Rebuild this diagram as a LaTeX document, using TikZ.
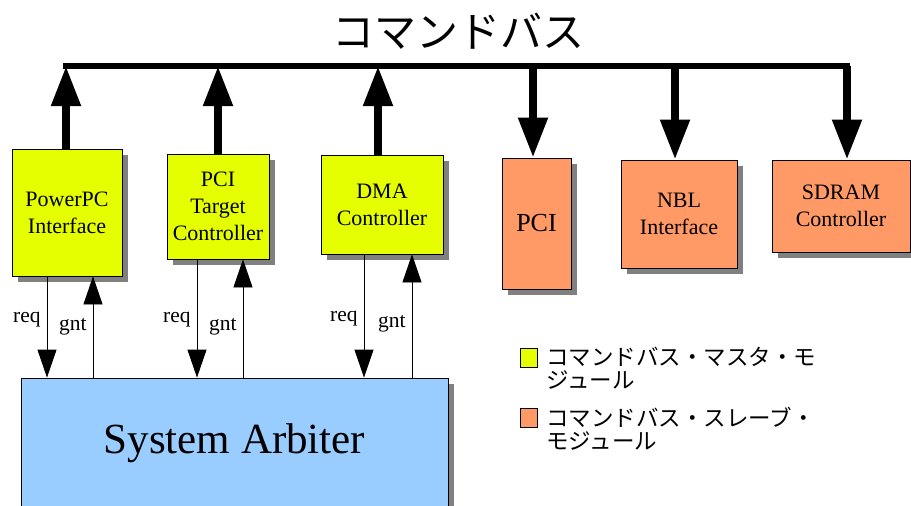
\documentclass[tikz,border=0pt]{standalone}
\usepackage{fontspec}
\setmainfont{Liberation Serif}
\newfontfamily\jp{Noto Sans CJK JP}
\usetikzlibrary{arrows.meta,shadows}
\definecolor{mastercol}{HTML}{E6FF00}
\definecolor{slavecol}{HTML}{FF9966}
\definecolor{arbcol}{HTML}{99CCFF}
\tikzset{
  module/.style={draw=black, line width=0.8pt, align=center, inner sep=2pt,
    font=\fontsize{22}{27}\selectfont,
    drop shadow={shadow xshift=6pt, shadow yshift=-6pt, fill=black!50, opacity=1}},
  master/.style={module, fill=mastercol},
  slave/.style={module, fill=slavecol},
  busline/.style={line width=6pt, line cap=rect},
  busarrow/.style={line width=8pt, -{Triangle[width=28pt,length=40pt]}},
  sig/.style={line width=0.8pt, -{Triangle[width=19pt,length=28pt]}},
  sigtext/.style={font=\fontsize{21.5}{24}\selectfont, inner sep=6pt},
  legendbox/.style={draw=black, line width=0.8pt, minimum width=17pt, minimum height=19pt, inner sep=0pt},
  legendtext/.style={font=\jp\fontsize{22.5}{23}\selectfont, align=left, inner sep=0pt, anchor=west}
}
\begin{document}
\begin{tikzpicture}[x=1pt,y=-1pt]
    \useasboundingbox (0,0) rectangle (911,506);
    \node[font=\jp\fontsize{42}{48}\selectfont] (title) at (458,31) {コマンドバス};
    \node[master, minimum width=110pt, minimum height=127pt] (ppc) at (67,212.5) {PowerPC\\Interface};
    \node[master, minimum width=102pt, minimum height=105pt] (pcit) at (218,206.5) {PCI\\Target\\Controller};
    \node[master, minimum width=122pt, minimum height=99pt] (dma) at (382,204.5) {DMA\\Controller};
    \node[slave, minimum width=69pt, minimum height=131pt, font=\fontsize{26}{30}\selectfont] (pci) at (536.5,223.5) {PCI};
    \node[slave, minimum width=116pt, minimum height=108pt] (nbl) at (679,214) {NBL\\Interface};
    \node[slave, minimum width=138pt, minimum height=92pt] (sdram) at (841,206) {SDRAM\\Controller};
    \node[module, fill=arbcol, minimum width=427pt, minimum height=130pt, font=\fontsize{43}{50}\selectfont] (arb) at (234.5,443) {System Arbiter};
    \coordinate (b1) at (66,66);
    \coordinate (b2) at (218,66);
    \coordinate (b3) at (378,66);
    \coordinate (b4) at (533,66);
    \coordinate (b5) at (675,66);
    \coordinate (b6) at (847,66);
    \draw[busline] (b1) -- (b6);
    \draw[busarrow] (ppc.north -| b1) -- (b1);
    \draw[busarrow] (pcit.north -| b2) -- (b2);
    \draw[busarrow] (dma.north -| b3) -- (b3);
    \draw[busarrow] (b4) -- (b4 |- pci.north);
    \draw[busarrow] (b5) -- (b5 |- nbl.north);
    \draw[busarrow] (b6) -- (b6 |- sdram.north);
    \coordinate (r1) at (47,0);
    \coordinate (g1) at (93,0);
    \coordinate (r2) at (197,0);
    \coordinate (g2) at (243,0);
    \coordinate (r3) at (364,0);
    \coordinate (g3) at (412,0);
    \draw[sig] (ppc.south -| r1) -- node[sigtext, left, pos=.43] (req1) {req} (arb.north -| r1);
    \draw[sig] (arb.north -| g1) -- node[sigtext, left, pos=.5] (gnt1) {gnt} (ppc.south -| g1);
    \draw[sig] (pcit.south -| r2) -- node[sigtext, left, pos=.51] (req2) {req} (arb.north -| r2);
    \draw[sig] (arb.north -| g2) -- node[sigtext, left, pos=.43] (gnt2) {gnt} (pcit.south -| g2);
    \draw[sig] (dma.south -| r3) -- node[sigtext, left, pos=.52] (req3) {req} (arb.north -| r3);
    \draw[sig] (arb.north -| g3) -- node[sigtext, left, pos=.44] (gnt3) {gnt} (dma.south -| g3);
    \node[legendbox, fill=mastercol] (keym) at (528.5,357.5) {};
    \node[legendtext] (keymtext) at (546,368.5) {コマンドバス・マスタ・モ\\ジュール};
    \node[legendbox, fill=slavecol] (keys) at (528.5,418) {};
    \node[legendtext] (keystext) at (546,429) {コマンドバス・スレーブ・\\モジュール};
\end{tikzpicture}
\end{document}
